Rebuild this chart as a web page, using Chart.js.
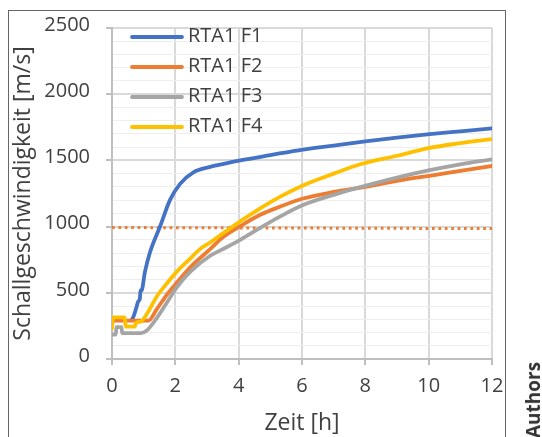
<!DOCTYPE html>
<html>
<head>
<meta charset="utf-8">
<script src="https://cdn.jsdelivr.net/npm/chart.js@4.4.1/dist/chart.umd.min.js"></script>
<style>
  body { margin: 0; background: #fff; }
  #wrap { position: relative; width: 542px; height: 437px; overflow: hidden; }
  #frame { position: absolute; left: 8px; top: 10px; width: 496px; height: 440px; border: 1px solid #666; pointer-events: none; }
  #credit { position: absolute; left: 533px; top: 400px; transform: translate(-50%, -50%) rotate(-90deg);
    font: bold 19px "Open Sans", sans-serif; color: #333; white-space: nowrap; }
</style>
</head>
<body>
<div id="wrap">
  <canvas id="chart" width="542" height="437"></canvas>
  <div id="frame"></div>
  <div id="credit">Authors</div>
</div>
<script>
// Werte (Zeit in h, Schallgeschwindigkeit in m/s)
const seriesNames = ['RTA1 F1', 'RTA1 F2', 'RTA1 F3', 'RTA1 F4'];
const seriesColors = ['#4472C4', '#ED7D31', '#A5A5A5', '#FFC000'];

const tF1 = [0.62, 0.67, 0.76, 0.83, 0.88, 0.9, 0.93, 1.04, 1.2, 1.52, 1.83, 2.15, 2.57, 3.1, 3.5, 4.05, 5, 6.03, 7, 8, 9, 10.03, 11, 12];
const vF1 = [295, 315, 380, 436, 455, 520, 515, 658, 806, 1003, 1200, 1323, 1410, 1451, 1472, 1500, 1540, 1582, 1612, 1643, 1672, 1698, 1720, 1742];

const tF2 = [0, 0.03, 0.6, 1.15, 1.41, 1.73, 2.04, 2.5, 3.1, 3.5, 4.05, 4.68, 5.3, 6.03, 7, 8, 9, 10.03, 11, 12];
const vF2 = [265, 290, 290, 290, 375, 485, 575, 700, 830, 920, 1003, 1089, 1150, 1212, 1262, 1300, 1345, 1384, 1420, 1458];

const tF3 = [0, 0.12, 0.14, 0.3, 0.32, 0.6, 0.9, 1.1, 1.4, 1.73, 2.04, 2.5, 3.1, 3.42, 4.05, 4.68, 5.3, 6.03, 7, 7.84, 9, 10.03, 11, 12];
const vF3 = [185, 185, 240, 240, 195, 195, 195, 215, 305, 425, 540, 665, 780, 820, 900, 990, 1075, 1163, 1240, 1298, 1370, 1426, 1470, 1508];

const tF4 = [0, 0.03, 0.2, 0.4, 0.43, 0.72, 0.76, 0.9, 1.1, 1.41, 1.73, 2.04, 2.46, 2.78, 3.1, 3.42, 4.05, 4.68, 5.3, 6.03, 7, 7.84, 9, 10.03, 11, 12];
const vF4 = [230, 315, 315, 315, 245, 245, 275, 282, 340, 470, 570, 658, 756, 830, 880, 935, 1040, 1138, 1225, 1311, 1400, 1471, 1535, 1594, 1630, 1661];

// Grenzwert (gepunktete Linie)
const tLimit = [0, 12];
const vLimit = [993, 985];

const xTicks = [0, 2, 4, 6, 8, 10, 12];

function points(ts, vs) {
  return ts.map((t, i) => ({ x: t, y: vs[i] }));
}

const seriesT = [tF1, tF2, tF3, tF4];
const seriesV = [vF1, vF2, vF3, vF4];

const datasets = seriesNames.map((name, i) => ({
  label: name,
  data: points(seriesT[i], seriesV[i]),
  borderColor: seriesColors[i],
  borderWidth: 3.8,
  borderCapStyle: 'round',
  borderJoinStyle: 'round',
  pointRadius: 0,
  cubicInterpolationMode: 'monotone',
  order: 4 - i
}));

datasets.push({
  label: 'Grenzwert',
  data: points(tLimit, vLimit),
  borderColor: '#ED7D31',
  borderWidth: 3,
  borderDash: [2.7, 3.7],
  borderCapStyle: 'butt',
  pointRadius: 0,
  order: 10
});

// Legende innerhalb der Zeichenfläche
const innerLegend = {
  id: 'innerLegend',
  afterDraw(chart) {
    const ctx = chart.ctx;
    ctx.save();
    ctx.font = '20px "Open Sans"';
    ctx.textBaseline = 'middle';
    seriesNames.forEach((name, i) => {
      const y = 37 + i * 30;
      ctx.strokeStyle = seriesColors[i];
      ctx.lineWidth = 3.8;
      ctx.lineCap = 'round';
      ctx.beginPath();
      ctx.moveTo(132, y);
      ctx.lineTo(182, y);
      ctx.stroke();
      ctx.fillStyle = '#404040';
      ctx.fillText(name, 188, y - 1);
    });
    ctx.restore();
  }
};

Chart.defaults.font.family = '"Open Sans", sans-serif';
Chart.defaults.color = '#404040';

new Chart(document.getElementById('chart'), {
  type: 'line',
  data: { datasets: datasets },
  options: {
    responsive: false,
    animation: false,
    devicePixelRatio: 1,
    layout: { autoPadding: false, padding: { left: 0, top: 21, right: 50, bottom: 0 } },
    plugins: {
      legend: { display: false },
      tooltip: { enabled: false }
    },
    scales: {
      x: {
        type: 'linear',
        min: 0,
        max: 12,
        afterFit: s => { s.height = 78; },
        afterBuildTicks: s => { s.ticks = xTicks.map(v => ({ value: v })); },
        ticks: { font: { size: 20 }, padding: 9, color: '#404040', maxRotation: 0 },
        grid: { color: '#D9D9D9', lineWidth: 2, tickLength: 6, tickColor: '#BFBFBF' },
        border: { color: '#BFBFBF', width: 2 },
        title: { display: true, text: 'Zeit [h]', font: { size: 23 }, color: '#404040', padding: { top: 0, bottom: 0 } }
      },
      y: {
        min: 0,
        max: 2500,
        afterFit: s => { s.width = 112; },
        ticks: {
          stepSize: 100,
          autoSkip: false,
          font: { size: 20 },
          padding: 16,
          labelOffset: -3,
          color: '#404040',
          callback: v => (v % 500 === 0 ? v : '')
        },
        grid: {
          color: c => (c.tick && c.tick.value % 500 === 0 ? '#D9D9D9' : '#EEEEEE'),
          lineWidth: c => (c.tick && c.tick.value % 500 === 0 ? 2 : 1),
          tickLength: 6,
          tickColor: c => (c.tick && c.tick.value % 500 === 0 ? '#BFBFBF' : 'rgba(0,0,0,0)')
        },
        border: { color: '#BFBFBF', width: 2 },
        title: { display: true, text: 'Schallgeschwindigkeit [m/s]', font: { size: 23 }, color: '#404040', padding: { top: 10, bottom: 0 } }
      }
    }
  },
  plugins: [innerLegend]
});
</script>
</body>
</html>
